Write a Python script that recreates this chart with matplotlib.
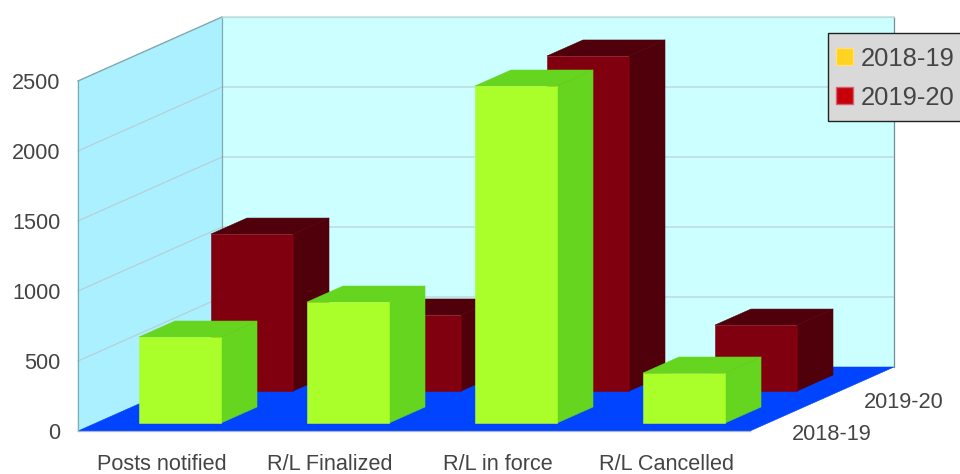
import matplotlib
matplotlib.use("Agg")
import matplotlib.pyplot as plt
from matplotlib.patches import Polygon, Patch, Rectangle

plt.rcParams['font.family'] = ['Liberation Sans', 'DejaVu Sans']

categories = ["Posts notified", "R/L Finalized", "R/L in force", "R/L Cancelled"]
series_names = ["2018-19", "2019-20"]
values_2018 = [614, 864, 2407, 357]
values_2019 = [1121, 543, 2393, 471]
y_ticks = [0, 500, 1000, 1500, 2000, 2500]

W, H = 960, 474
L, R, B, T = 78, 893, 431, 17
PX_PER_CAT = 168.0
PX_PER_VAL = 0.14
DX = 72 / PX_PER_CAT     # x shift per depth unit
DY = 32 / PX_PER_VAL     # y shift per depth unit
TOPV = 2500
BAR_W = 82 / PX_PER_CAT
BAR_D = 0.5
N = len(categories)
NS = len(series_names)

fig = plt.figure(figsize=(W / 100, H / 100), dpi=100, facecolor='white')
ax = fig.add_axes([L / W, 1 - B / H, (R - L) / W, (B - T) / H])
ax.set_xlim(0, (R - L) / PX_PER_CAT)
ax.set_ylim(0, (B - T) / PX_PER_VAL)
ax.patch.set_visible(False)
for s in ax.spines.values():
    s.set_visible(False)


def P(x, d, v):
    return (x + d * DX, v + d * DY)


def poly(pts, fc, ec=None, lw=0.4, z=1):
    ax.add_patch(Polygon(pts, closed=True, facecolor=fc,
                         edgecolor=ec if ec else fc, linewidth=lw,
                         joinstyle='round', zorder=z, clip_on=False))


# walls and floor
poly([P(0, NS, 0), P(N, NS, 0), P(N, NS, TOPV), P(0, NS, TOPV)], '#CCFFFF', z=1)
poly([P(0, 0, 0), P(0, NS, 0), P(0, NS, TOPV), P(0, 0, TOPV)], '#AAF0FF', z=1)
poly([P(0, 0, 0), P(N, 0, 0), P(N, NS, 0), P(0, NS, 0)], '#0044FF', z=2)

for v in y_ticks[1:]:
    xs, ys = zip(P(0, 0, v), P(0, NS, v), P(N, NS, v))
    ax.plot(xs, ys, color='#B9CDD2', lw=0.8, zorder=1.5, clip_on=False)
for a, b, c in [(P(0, 0, 0), P(0, 0, TOPV), '#7FAAB0'),
                (P(0, 0, TOPV), P(0, NS, TOPV), '#7FAAB0'),
                (P(0, NS, 0), P(0, NS, TOPV), '#7FAAB0'),
                (P(N, NS, 0), P(N, NS, TOPV), '#6F8F93'),
                (P(0, NS, TOPV), P(N, NS, TOPV), '#B9DDE0'),
                (P(0, 0, 0), P(N, 0, 0), '#AAB4C8')]:
    ax.plot([a[0], b[0]], [a[1], b[1]], color=c, lw=0.9, zorder=2.5, clip_on=False)


def bar3d(i, depth, v, front, dark, z):
    x0 = i + 0.5 - BAR_W / 2
    x1 = x0 + BAR_W
    d0, d1 = depth, depth + BAR_D
    poly([P(x1, d0, 0), P(x1, d1, 0), P(x1, d1, v), P(x1, d0, v)], dark, z=z)
    poly([P(x0, d0, v), P(x1, d0, v), P(x1, d1, v), P(x0, d1, v)], dark, z=z)
    poly([P(x0, d0, 0), P(x1, d0, 0), P(x1, d0, v), P(x0, d0, v)], front, z=z + 0.1)


for i, v in enumerate(values_2019):
    bar3d(i, 1.25, v, '#800010', '#4F000A', 3 + i * 0.2)
for i, v in enumerate(values_2018):
    bar3d(i, 0.25, v, '#AAFF2A', '#66D51F', 5 + i * 0.2)

# axis text
ax.set_yticks(y_ticks)
ax.set_xticks([i + 0.5 for i in range(N)])
ax.set_xticklabels(categories)
ax.tick_params(axis='both', length=0, labelsize=15.6, labelcolor='#444444')
ax.tick_params(axis='y', pad=12.5)
ax.tick_params(axis='x', pad=16.3)

for j, name in enumerate(series_names):
    x, y = P(N, j + 0.5, 0)
    ax.annotate(name, (x, y), xytext=(4.4, -6.8), textcoords='offset points',
                ha='left', va='top', fontsize=15.7, color='#444444',
                annotation_clip=False)

# legend box and entries
ax.add_patch(Rectangle((828 / W, 1 - 120.5 / H), 140 / W, 87.5 / H,
                       transform=fig.transFigure, facecolor='#D9D9D9',
                       edgecolor='#222222', linewidth=1.0, zorder=19, clip_on=False))
leg = ax.legend(handles=[Patch(facecolor='#FFD320', edgecolor='#FFE080', label=series_names[0]),
                         Patch(facecolor='#C5000B', edgecolor='#D86070', label=series_names[1])],
                loc='upper left', bbox_to_anchor=(835.5 / W, 1 - 46.5 / H),
                bbox_transform=fig.transFigure, fontsize=18.4, labelcolor='#444444',
                frameon=False, borderpad=0, handlelength=0.68, handleheight=0.68,
                handletextpad=0.31, labelspacing=0.59, borderaxespad=0)
leg.set_zorder(20)

fig.savefig("out.png", dpi=100)
